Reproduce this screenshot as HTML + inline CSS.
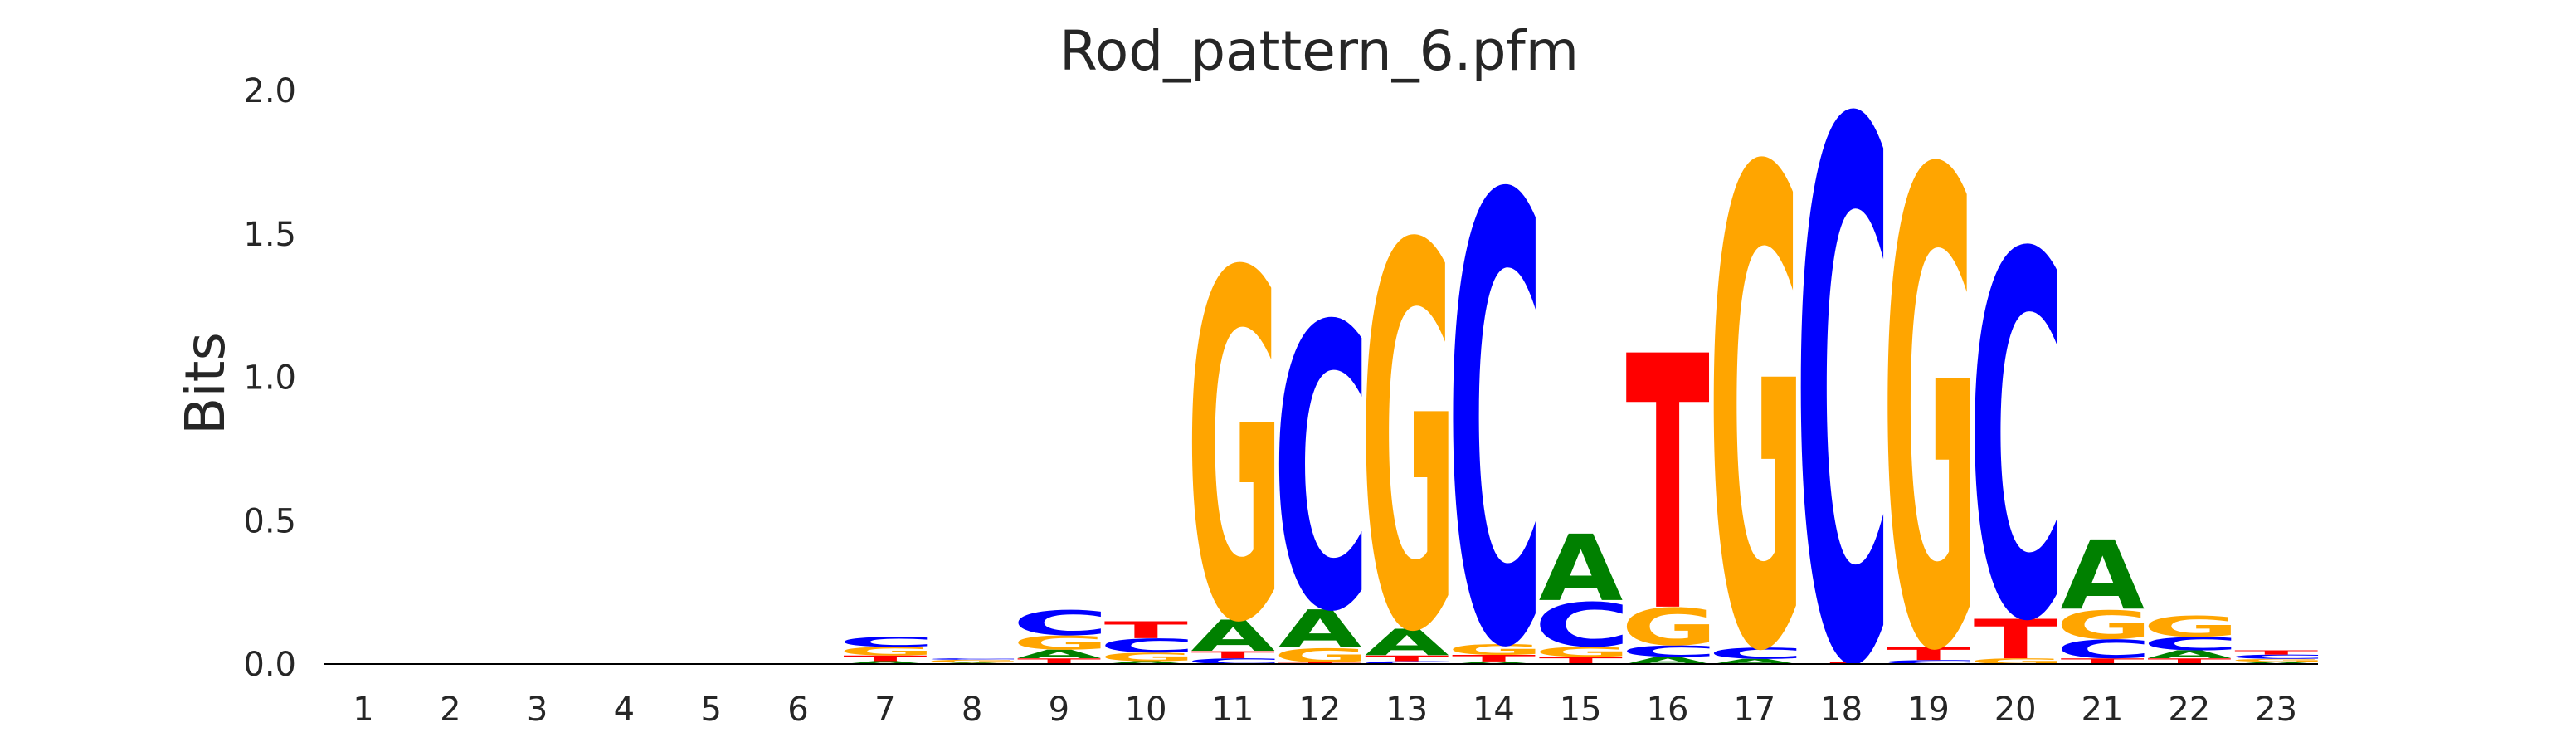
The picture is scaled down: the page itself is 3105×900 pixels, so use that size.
<!DOCTYPE html>
<html><head><meta charset="utf-8"><style>
html,body{margin:0;padding:0;background:#fff;overflow:hidden;width:3105px;height:900px;}
svg{display:block;}
text{font-family:"DejaVu Sans","Liberation Sans",sans-serif;}
</style></head><body>
<svg id="chart" width="3105" height="900" viewBox="0 0 3105 900" xmlns="http://www.w3.org/2000/svg" overflow="hidden">
<text x="1590" y="84" font-size="66" fill="#262626" text-anchor="middle">Rod_pattern_6.pfm</text>
<text x="0" y="0" font-size="66" fill="#262626" text-anchor="middle" transform="translate(270,462) rotate(-90)">Bits</text>
<g id="yticks"></g>
<g id="xticks"></g>
<g id="letters"></g>
<line x1="390" y1="800" x2="2794" y2="800" stroke="#000" stroke-width="2"/>
</svg>
<script>
const positions = [1,2,3,4,5,6,7,8,9,10,11,12,13,14,15,16,17,18,19,20,21,22,23];
const yTickValues = [0, 0.5, 1.0, 1.5, 2.0];
const yTickLabels = ["0.0","0.5","1.0","1.5","2.0"];
// stacks bottom -> top: [letter, bits]
const stacks = [
 [],[],[],[],[],[],
 [["A",0.01],["T",0.02],["G",0.03],["C",0.035]],
 [["A",0.005],["G",0.01],["C",0.005]],
 [["T",0.02],["A",0.03],["G",0.05],["C",0.09]],
 [["A",0.01],["G",0.03],["C",0.05],["T",0.06]],
 [["C",0.02],["T",0.025],["A",0.11],["G",1.26]],
 [["T",0.006],["G",0.05],["A",0.135],["C",1.03]],
 [["C",0.01],["T",0.02],["A",0.093],["G",1.39]],
 [["A",0.009],["T",0.023],["G",0.038],["C",1.62]],
 [["T",0.025],["G",0.035],["C",0.16],["A",0.235]],
 [["A",0.025],["C",0.04],["G",0.135],["T",0.90]],
 [["A",0.018],["C",0.04],["G",1.73]],
 [["G",0.003],["T",0.005],["C",1.95]],
 [["C",0.014],["T",0.045],["G",1.72]],
 [["G",0.02],["T",0.14],["C",1.32]],
 [["T",0.02],["C",0.067],["G",0.103],["A",0.245]],
 [["T",0.02],["A",0.028],["C",0.047],["G",0.075]],
 [["A",0.008],["G",0.01],["C",0.015],["T",0.015]]
];
const colors = {A:"#008000",C:"#0000ff",G:"#ffa500",T:"#ff0000"};
const NS="http://www.w3.org/2000/svg";
const y0=800, pxPerBit=345.5, x1=438, step=104.8, letterW=101;
function yScale(v){return y0 - v*pxPerBit;}
function xScale(p){return x1 + (p-1)*step;}
const cv=document.createElement('canvas').getContext('2d');
cv.font='bold 100px "DejaVu Sans", "Liberation Sans", sans-serif';
const metrics={};
["A","C","G","T"].forEach(L=>{
  const m=cv.measureText(L);
  metrics[L]={l:-m.actualBoundingBoxLeft, r:m.actualBoundingBoxRight, a:m.actualBoundingBoxAscent, d:m.actualBoundingBoxDescent};
});
const yt=document.getElementById('yticks');
yTickValues.forEach((v,i)=>{
  const t=document.createElementNS(NS,'text');
  
  
  t.setAttribute('x',357);t.setAttribute('y',yScale(v)+14);
  t.setAttribute('font-size','40');t.setAttribute('fill','#262626');t.setAttribute('text-anchor','end');
  t.textContent=yTickLabels[i];yt.appendChild(t);
});
const xt=document.getElementById('xticks');
positions.forEach(p=>{
  const t=document.createElementNS(NS,'text');
  
  
  t.setAttribute('x',xScale(p));t.setAttribute('y',868);
  t.setAttribute('font-size','40');t.setAttribute('fill','#262626');t.setAttribute('text-anchor','middle');
  t.textContent=String(p);xt.appendChild(t);
});
const lg=document.getElementById('letters');
stacks.forEach((st,i)=>{
  let base=0;
  const cx=xScale(positions[i]);
  st.forEach(([L,h])=>{
    const top=base+h;
    const yTop=yScale(top), yBot=yScale(base);
    const hh=yBot-yTop;
    base=top;
    if(hh<=0.3) return;
    const t=document.createElementNS(NS,'text');
    
    
    t.setAttribute('font-size','100');t.setAttribute('font-weight','bold');
    t.setAttribute('fill',colors[L]);
    t.setAttribute('x',0);t.setAttribute('y',0);
    t.textContent=L;
    lg.appendChild(t);
    const m=metrics[L];
    let gw=m.r-m.l, gx=m.l, gTop=-m.a, gH=m.a+m.d;
    if(!(gw>0)||!(gH>0)){const b=t.getBBox();gw=b.width*0.92;gx=b.x+b.width*0.04;gTop=-73;gH=73;}
    const sx=letterW/gw, sy=hh/gH;
    t.setAttribute('transform','translate('+(cx-letterW/2)+','+yTop+') scale('+sx+','+sy+') translate('+(-gx)+','+(-gTop)+')');
  });
});
</script>
</body></html>
